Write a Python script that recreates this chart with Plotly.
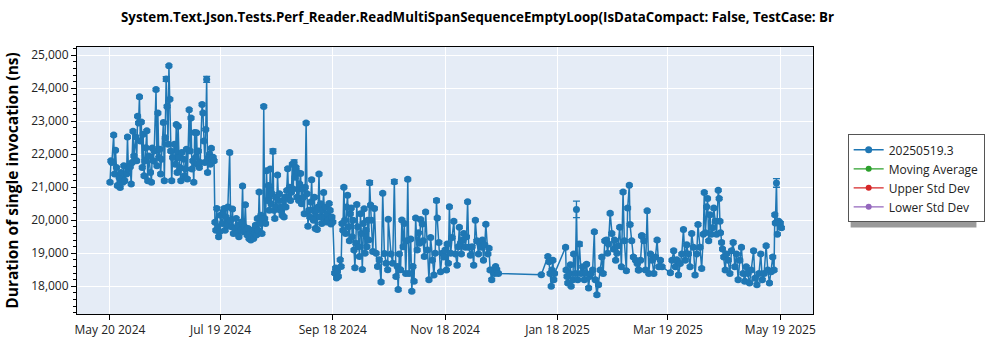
import pandas as pd
import plotly.graph_objects as go

TITLE = "System.Text.Json.Tests.Perf_Reader.ReadMultiSpanSequenceEmptyLoop(IsDataCompact: False, TestCase: Br"
SERIES_NAME = "20250519.3"
START_DATE = "2024-05-20"

# days after START_DATE for each run
day_offsets = [
    0, 0.5, 1, 2, 2.5, 3, 3.5, 4, 5, 5.5, 6, 7, 7.5, 8, 9, 9.5, 10, 11, 11.5, 12, 12.5, 13, 14, 14.5,
    15, 15.5, 16, 16.5, 17, 17.5, 18, 18.5, 19, 19.5, 20, 20.5, 21, 22, 22.5, 23, 23.5, 24, 25, 25.5,
    26, 26.5, 27, 27.5, 28, 29, 29.5, 30, 30.5, 31, 31.5, 32, 32.5, 33, 33.5, 34, 35, 35.5, 36, 36.5,
    37, 37.5, 38, 38.5, 39, 40, 40.5, 41, 41.5, 42, 43, 43.5, 44, 44.5, 45, 45.5, 46, 46.5, 47, 47.5,
    48, 48.5, 49, 50, 50.5, 51, 51.5, 52, 52.5, 53, 53.5, 54, 54.5, 55, 55.5, 56, 56.5,
    57, 57.5, 58, 58.5, 59, 59.5, 60, 61, 61.5, 62, 62.5, 63, 63.5, 64, 65, 65.5, 66, 66.5, 67,
    68, 68.5, 69, 69.5, 70, 71, 71.5, 72, 72.5, 73, 73.5, 74, 74.5, 75, 75.5, 76, 76.5, 77, 77.5, 78,
    78.5, 79, 79.5, 80, 80.5, 81, 81.5, 82, 82.5, 83, 83.5, 84, 84.5, 85, 85.5, 86, 86.5, 87, 87.5, 88,
    88.5, 89, 89.5, 90, 90.5, 91, 91.5, 92, 92.5, 93, 93.5, 94, 94.5, 95, 95.5, 96, 96.5, 97, 97.5, 98,
    98.5, 99, 99.5, 100, 100.5, 101, 101.5, 102, 102.5, 103, 103.5, 104, 104.5, 105, 105.5, 106, 106.5,
    107, 107.5, 108, 108.5, 109, 109.5, 110, 110.5, 111, 111.5, 112, 112.5, 113, 113.5, 114, 114.5, 115,
    115.5, 116, 116.5, 117, 117.5, 118, 118.5, 119, 119.5, 120, 120.5, 121, 122, 122.5, 123, 123.5, 124,
    125, 125.5, 126, 126.5, 127, 127.5, 128, 128.5, 129, 129.5, 130, 130.5, 131, 131.5, 132, 132.5, 133,
    133.5, 134, 134.5, 135, 135.5, 136, 136.5, 137, 137.5, 138, 138.5, 139, 139.5, 140, 140.5,
    141, 141.5, 142, 142.7, 143.6, 144.5, 145.3, 146.2, 147.2, 148.1, 149, 149.9, 150.8, 151.1, 152.6,
    153.5, 154.4, 155.3, 156, 156.5, 157.1, 157.8, 158.5, 159.2, 159.8, 160.6, 161.2, 161.7, 162.4,
    163.3, 163.9, 164.5, 165.1, 166, 166.8, 167.5, 168.1, 168.7, 169.6, 170, 170.7, 171.4, 172.3,
    173.2, 174.1, 175, 175.9, 176.6, 177.3, 177.7, 178.6, 179.5, 180.4, 181.3, 182, 182.7, 183.1,
    183.7, 184.3, 185, 185.8, 186.7, 187.6, 188.5, 189.1, 189.7, 190.3, 190.8, 191.5, 192.1, 193,
    193.6, 194.2, 194.8, 195.7, 196.6, 197.5, 198.4, 199.2, 200.1, 200.9, 201.6, 202.2, 202.8,
    203.5, 204.1, 205.2, 205.8, 206.4, 207.3, 208, 208.8, 209.4, 210, 210.9,
    234.2, 237.8, 238.4, 239, 239.6, 240, 240.5, 241, 241.4, 247.4, 247.7, 248.2, 248.6, 249.5,
    250, 250.4, 251.3, 251.8, 252.7, 253.3, 254, 254.9, 255.8, 256.7, 257.6, 258.2, 258.8, 259.9,
    260.5, 261.2, 262.1, 263, 263.5, 264.4, 265.3, 266.2, 267.1, 267.8, 268.7, 269.6, 270.2, 270.7,
    271.6, 272.5, 273.4, 274, 274.6, 275.3, 275.9, 276.8, 277.7, 278.6, 279.3, 280.4, 281.1, 282,
    282.4, 283.3, 284.2, 285.4, 286.3, 286.9, 287.2, 288.1, 288.6, 289, 289.9, 290.8, 291.7, 292.6,
    293.5, 294.4, 295.3, 296.2, 297.1, 298, 298.9, 299.8, 304.3, 305.2, 306.1, 307, 307.8, 308.7,
    309.6, 310.5, 311.4, 312.3, 313.2, 314.1, 315, 315.9, 316.8, 317.7, 318.6, 319.3, 320.4, 321.3,
    322.2, 322.7, 323.3, 324, 324.5, 325.1, 325.8, 326.5, 327.2, 327.9, 328.7, 329.4, 330.3, 330.8,
    331.2, 331.5, 332.1, 332.6, 333.3, 334.1, 334.8, 335.7, 336.6, 337.5, 338.4, 339.3, 340.2, 341.1,
    342, 342.9, 343.8, 344.7, 345.5, 346.4, 347.3, 348.2, 349.5, 350.2, 351.3, 352.4, 353.4, 354.2,
    355.2, 356.3, 357.2, 358.1, 359, 359.9, 360.6, 361, 361.3, 361.9, 362.4, 363.1, 364, 364.6,
]

# mean duration of a single invocation (ns)
durations = [
    21150, 21800, 21750, 22580, 21400, 22120, 21600, 21050, 21300, 20990, 21450, 21150, 21650, 21200, 21400, 22520, 21550, 21620, 21100, 21750, 22700, 21950, 22530, 21800,
    23150, 22950, 23740, 22400, 22980, 21600, 22610, 21350, 21800, 22200, 22710, 21200, 21950, 21450, 21150, 22190, 21800, 22100, 23960, 21650,
    23250, 21900, 22150, 21400, 21850, 22960, 21200, 22500, 24280, 23450, 22300, 24680, 23670, 22100, 21200, 21900, 22300, 21700, 22900, 21450,
    22850, 21900, 21600, 21200, 22050, 21850, 21350, 21550, 22150, 21250, 23350, 22100, 23100, 21550, 21800, 21150, 22660, 21900, 22650, 21700,
    22100, 21600, 21750, 23510, 23250, 22400, 21750, 22750, 24270, 21450, 21900, 22000, 21700, 22180, 21850, 21910, 21800,
    19940, 19700, 20360, 19800, 19500, 19650, 20150, 19900, 20250, 20360, 19700, 20100, 19850, 20400, 22050, 20000, 19800, 20340, 19600,
    19750, 20050, 19600, 19850, 19500, 19700, 19950, 21040, 19650, 19800, 20470, 19700, 19550, 19750, 19450, 19600, 19400, 19500, 19700, 19450,
    19600, 19850, 19550, 20050, 19700, 20860, 19900, 20150, 19600, 20050, 23450, 20050, 19900, 21500, 20600, 21050, 20300, 21550, 20500, 20800,
    22090, 20300, 20050, 20700, 20400, 21370, 20600, 20800, 20300, 20400, 20150, 20600, 20100, 20700, 20400, 20900, 21560, 20700, 21000, 20600,
    20850, 21700, 20950, 21750, 21300, 21600, 20700, 21450, 20600, 21100, 21420, 20500, 20950, 20700, 20200, 21000, 22950,
    20800, 19820, 20300, 20100, 20550, 21230, 20300, 20000, 20700, 19750, 20300, 19720, 20400, 21400, 20100, 20500, 19900,
    20300, 20840, 20100, 20400, 19950, 20200, 20000, 20510, 20300, 19890, 20100, 19950, 18400, 18550, 18250, 18450, 18300,
    18800, 18600, 19900, 19700, 21000, 20000, 19600, 20400, 20760, 19800, 19380, 20200, 20370, 19500, 20000, 19100, 18560,
    19300, 20480, 19800, 19200, 18900, 20200, 19600, 18510, 19900, 20350, 19000, 19700, 19200, 20000, 19400,
    21140, 20460, 20000, 19050, 20360, 19000, 18600, 18800, 18130, 20820, 18990, 18700, 18500, 20030, 18980,
    18700, 21170, 18300, 18600, 17900, 18980, 18500, 20010, 19200, 19900, 18390, 19380, 21240, 18390,
    19430, 17850, 18600, 18150, 20070, 19100, 19620, 19300, 20020, 19890, 19380, 18900, 20250, 19100,
    18200, 19480, 18790, 18340, 19000, 20600, 20070, 19330, 18440, 19000, 18890, 19100, 18490, 19280,
    18700, 20410, 19000, 19480, 19970, 18980, 18640, 19200, 19790, 19300, 18980, 19400, 19600, 19180,
    19500, 20560, 19180, 18940, 19200, 18640, 20000, 19380, 18980, 19300, 19180, 19400, 18790,
    19250, 19880, 18980, 19150, 18490, 18200, 18500, 18390, 18600, 18510, 18390,
    18350, 18900, 18740, 18390, 18000, 18490, 18790, 18200, 18390, 19180, 18490, 18300, 18100, 18390,
    18650, 18000, 18200, 18980, 18390, 20330, 18200, 19280, 18390, 18590, 18200, 18400, 18670, 17950,
    18300, 18390, 18490, 19650, 18200, 17740, 18050, 18490, 18890, 18390, 19380, 19400, 19000, 19280,
    20210, 19600, 19130, 19400, 18790, 19000, 19230, 19790, 18590, 20860, 19380, 18470, 20370, 21060,
    19870, 19380, 18890, 18790, 18690, 18490, 18490, 18790, 19530, 19530, 19380, 18490, 20290, 18390,
    18980, 18790, 18390, 18890, 19400, 18590, 18790, 18590, 18410, 18790, 19080, 18590, 18800, 18340,
    18690, 18980, 19720, 18790, 19260, 18980, 18590, 19600, 19180, 18340, 18980, 19870, 19180, 18540,
    19580, 20840, 19620, 20410, 20660, 19380, 20170, 19580, 19770, 20370, 19970, 19580, 20910, 20660,
    19970, 19620, 19330, 19130, 18890, 18490, 18980, 18790, 18390, 19080, 19330, 18590, 18980, 18200,
    18790, 19180, 18390, 18150, 18590, 18390, 18100, 18490, 19080, 18240, 18050, 18390, 18980, 18200,
    18390, 19230, 18490, 18100, 18440, 18890, 18490, 20170, 19920, 21130, 19580, 19970, 19920, 19770,
]

# error-bar half-widths (ns); most runs are tight, a few are visibly wide
ERR_TYPICAL = 35
err_wide = {30.5: 70, 52.5: 90, 88.5: 70, 100: 80, 141: 60, 154.4: 60, 177.3: 50,
            253.3: 250, 254.9: 60, 361.9: 130}

tick_dates = ["2024-05-20", "2024-07-19", "2024-09-18", "2024-11-18",
              "2025-01-18", "2025-03-19", "2025-05-19"]
tick_text = ["May 20 2024", "Jul 19 2024", "Sep 18 2024", "Nov 18 2024",
             "Jan 18 2025", "Mar 19 2025", "May 19 2025"]
y_ticks = [18000, 19000, 20000, 21000, 22000, 23000, 24000, 25000]

extra_series = [("Moving Average", "#2ca02c"), ("Upper Std Dev", "#d62728"),
                ("Lower Std Dev", "#9467bd")]

start = pd.Timestamp(START_DATE)
dates = [start + pd.Timedelta(days=d) for d in day_offsets]
errs = [err_wide.get(d, ERR_TYPICAL) for d in day_offsets]

BLUE = "#1f77b4"
fig = go.Figure()
fig.add_trace(go.Scatter(
    x=dates, y=durations, mode="lines+markers", name=SERIES_NAME,
    line=dict(color=BLUE, width=1.5),
    marker=dict(color=BLUE, size=7),
    error_y=dict(type="data", array=errs, color=BLUE, thickness=1.3, width=3.5),
))
for name, col in extra_series:
    fig.add_trace(go.Scatter(x=[None], y=[None], mode="lines+markers", name=name,
                             line=dict(color=col, width=1.2), marker=dict(color=col, size=6)))

L, R, T, B = 70, 187, 47, 31
W, H = 1000, 350
pw, ph = W - L - R, H - T - B

def px_x(px):
    return (px - L) / pw

def px_y(py):
    return (H - B - py) / ph

# legend drop shadow
fig.add_shape(type="rect", xref="paper", yref="paper",
              x0=px_x(851), x1=px_x(978), y0=px_y(231), y1=px_y(139),
              fillcolor="#9a9a9a", line=dict(width=0), layer="below")

fig.update_layout(
    width=W, height=H,
    margin=dict(l=L, r=R, t=T, b=B),
    paper_bgcolor="white", plot_bgcolor="#E5ECF6",
    font=dict(family="Open Sans", size=12, color="#222"),
    title=dict(text="<b>" + TITLE + "</b>", x=0.121, xanchor="left", xref="container",
               y=0.95, yanchor="middle", yref="container",
               font=dict(size=13.3, color="black")),
    showlegend=True,
    legend=dict(x=px_x(848), y=px_y(136), xanchor="left", yanchor="top",
                bgcolor="white", bordercolor="#555", borderwidth=1,
                font=dict(size=12, color="#222"), itemwidth=30),
    xaxis=dict(range=["2024-05-02 02:00", "2025-06-05 18:00"], type="date",
               tickvals=tick_dates, ticktext=tick_text,
               showgrid=True, gridcolor="white", gridwidth=1.3,
               showline=True, linecolor="black", linewidth=1, mirror=True,
               ticks="outside", ticklen=5, tickcolor="black", zeroline=False,
               tickfont=dict(size=12)),
    yaxis=dict(range=[17160, 25250], tickvals=y_ticks, tickformat=",d",
               showgrid=True, gridcolor="white", gridwidth=1.3,
               showline=True, linecolor="black", linewidth=1, mirror=True,
               ticks="outside", ticklen=5, tickcolor="black", zeroline=False,
               minor=dict(dtick=200, tick0=17000, ticks="outside", ticklen=3,
                          tickcolor="black", showgrid=False),
               title=dict(text="<b>Duration of single invocation (ns)</b>",
                          font=dict(size=15.5, color="black"), standoff=8),
               tickfont=dict(size=12)),
)

fig.write_html("out.html")
